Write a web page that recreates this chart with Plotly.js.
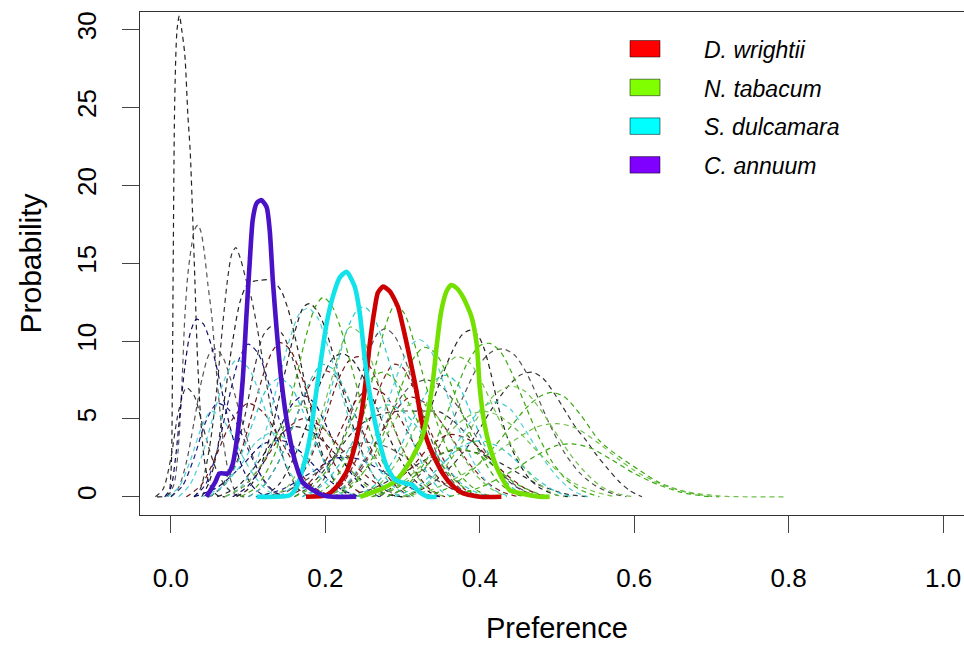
<!DOCTYPE html>
<html>
<head>
<meta charset="utf-8">
<script src="https://cdn.plot.ly/plotly-3.0.1.min.js"></script>
<style>
  html, body { margin: 0; padding: 0; background: #ffffff; overflow: hidden; }
  #chart { width: 976px; height: 647px; }
</style>
</head>
<body>
<div id="chart"></div>
<script>
// Host names, in legend order
const hostNames = ["D. wrightii", "N. tabacum", "S. dulcamara", "C. annuum"];
const hostFill = ["#FF0000", "#80FF00", "#00FFFF", "#8000FF"];
const hostLine = ["#CC0000", "#74E000", "#10E4EA", "#4A12C6"];

// Posterior densities of host preference, one per host species
const wrightiiX = [0.175, 0.2015, 0.2145, 0.2275, 0.238, 0.247, 0.253, 0.2575, 0.264, 0.268, 0.2748, 0.2834, 0.294, 0.3006, 0.309, 0.318, 0.3245, 0.335, 0.352, 0.365, 0.378, 0.40, 0.428];
const wrightiiY = [0, 0.1, 0.64, 1.6, 3.2, 5.4, 7.7, 9.8, 12.1, 13.1, 13.5, 13.2, 12.2, 10.9, 9.0, 6.8, 4.9, 3.2, 1.5, 0.7, 0.24, 0, 0];

const tabacumX = [0.245, 0.275, 0.292, 0.309, 0.3245, 0.333, 0.3395, 0.344, 0.35, 0.357, 0.363, 0.37, 0.378, 0.389, 0.396, 0.40, 0.406, 0.413, 0.4236, 0.4387, 0.4517, 0.4776, 0.4905];
const tabacumY = [0, 0.56, 1.07, 2.2, 3.7, 5.4, 7.5, 9.6, 11.9, 13.2, 13.6, 13.4, 12.85, 11.6, 9.8, 7.0, 4.7, 3.2, 1.7, 0.43, 0.24, 0, 0];

const dulcamaraX = [0.111, 0.154, 0.163, 0.173, 0.18, 0.189, 0.195, 0.2015, 0.21, 0.219, 0.2275, 0.238, 0.2446, 0.251, 0.2575, 0.266, 0.279, 0.29, 0.303, 0.313, 0.322, 0.333, 0.344];
const dulcamaraY = [0, 0.1, 0.64, 2.2, 3.8, 7.0, 9.0, 11.1, 12.9, 14.1, 14.45, 13.5, 11.8, 8.9, 6.6, 4.4, 2.0, 1.1, 0.87, 0.75, 0.3, 0, 0];

const annuumX = [0.046, 0.057, 0.063, 0.074, 0.080, 0.087, 0.093, 0.098, 0.102, 0.106, 0.111, 0.117, 0.124, 0.128, 0.132, 0.137, 0.143, 0.152, 0.163, 0.171, 0.184, 0.197, 0.21, 0.24];
const annuumY = [0, 0.9, 1.5, 1.5, 2.1, 4.3, 7.5, 11.8, 15.0, 17.8, 18.85, 19.05, 18.6, 17.1, 13.9, 10.7, 7.5, 4.3, 1.9, 0.9, 0.43, 0.1, 0, 0];

// Individual-level densities, [preference, probability] pairs
const darkSamples = [
  [[-0.018,0],[-0.004,0.1],[0.0,1.5],[0.002,8],[0.003,15],[0.005,25.5],[0.008,30],[0.011,30.9],[0.014,30],[0.018,28.4],[0.022,24.5],[0.025,22.2],[0.028,18.3],[0.031,14],[0.034,9.5],[0.038,5.5],[0.043,2.5],[0.05,0.8],[0.06,0.1],[0.07,0]],
  [[-0.004,0],[0.004,0.8],[0.008,2.2],[0.012,5],[0.015,8],[0.018,11.5],[0.022,14.3],[0.027,16.2],[0.031,17.2],[0.035,17.45],[0.039,17],[0.043,15.8],[0.048,13.6],[0.053,11.6],[0.057,9.2],[0.062,6.3],[0.068,3.5],[0.075,1.5],[0.083,0.4],[0.092,0]],
  [[0.03,0],[0.038,0.5],[0.045,1.8],[0.052,3.8],[0.06,7.2],[0.067,11],[0.074,14.2],[0.079,15.6],[0.084,16.0],[0.09,15.3],[0.097,14],[0.104,12.8],[0.112,10.8],[0.12,8.4],[0.13,5.6],[0.14,3.4],[0.152,1.6],[0.165,0.5],[0.18,0]],
  [[0.04,0],[0.05,1],[0.06,3],[0.07,6.5],[0.08,10],[0.09,12.6],[0.1,13.7],[0.115,13.9],[0.13,13.9],[0.142,13.3],[0.152,12],[0.162,10],[0.175,7],[0.188,4.2],[0.2,2.2],[0.215,0.8],[0.23,0.1],[0.24,0]],
  [[0.0,0],[0.01,0.6],[0.02,2.2],[0.03,4.8],[0.04,7.5],[0.05,9.2],[0.058,9.5],[0.067,9],[0.077,7.6],[0.088,5.6],[0.1,3.5],[0.112,1.8],[0.125,0.7],[0.14,0.1],[0.15,0]],
  [[0.05,0],[0.065,0.6],[0.08,2.2],[0.095,5],[0.108,8.2],[0.12,10.4],[0.132,11.0],[0.145,10.4],[0.158,8.8],[0.17,6.6],[0.183,4.4],[0.197,2.4],[0.212,1],[0.228,0.2],[0.24,0]],
  [[0.085,0],[0.1,0.5],[0.115,1.8],[0.13,4.2],[0.145,7.4],[0.16,10.5],[0.172,12.2],[0.18,12.4],[0.19,11.9],[0.2,10.8],[0.212,8.8],[0.225,6.4],[0.24,3.9],[0.255,2],[0.27,0.8],[0.288,0.1],[0.3,0]],
  [[0.17,0],[0.19,0.6],[0.21,2.2],[0.23,4.8],[0.245,7.4],[0.258,9.5],[0.268,10.5],[0.278,10.8],[0.29,10.3],[0.302,9],[0.315,7],[0.33,4.7],[0.345,2.7],[0.36,1.3],[0.378,0.4],[0.395,0]],
  [[0.16,0],[0.18,0.7],[0.2,1.8],[0.22,3.2],[0.24,4.4],[0.26,5.1],[0.28,5.4],[0.296,5.5],[0.32,5.5],[0.348,5.45],[0.365,4.9],[0.385,3.9],[0.405,2.7],[0.425,1.6],[0.445,0.7],[0.465,0.2],[0.485,0]],
  [[0.27,0],[0.29,0.8],[0.31,2.4],[0.33,4.8],[0.35,7.6],[0.365,9.4],[0.377,10.4],[0.388,10.7],[0.397,10.4],[0.405,9.6],[0.414,8],[0.424,5.8],[0.435,3.9],[0.447,2.5],[0.462,1.3],[0.477,0.6],[0.5,0.1],[0.52,0]],
  [[0.28,0],[0.31,0.8],[0.335,2.2],[0.36,4.4],[0.38,6.6],[0.398,8.4],[0.415,9.3],[0.43,9.5],[0.445,9.1],[0.46,8],[0.475,6.4],[0.49,4.7],[0.51,2.8],[0.53,1.5],[0.55,0.7],[0.572,0.2],[0.59,0]],
  [[0.3,0],[0.33,0.6],[0.36,1.8],[0.39,3.6],[0.415,5.6],[0.435,7],[0.452,7.8],[0.468,8.0],[0.482,7.6],[0.497,6.6],[0.512,5.4],[0.525,4.4],[0.538,3.6],[0.551,2.7],[0.564,1.9],[0.58,1.0],[0.594,0.4],[0.61,0]],
  [[0.12,0],[0.14,0.8],[0.16,2.6],[0.18,5.2],[0.195,7.5],[0.21,8.9],[0.222,9.2],[0.235,8.8],[0.25,7.6],[0.265,5.9],[0.28,4.1],[0.297,2.4],[0.315,1.1],[0.335,0.3],[0.35,0]],
  [[0.2,0],[0.225,0.6],[0.25,2],[0.27,3.9],[0.29,5.8],[0.31,7.1],[0.33,7.5],[0.35,7.1],[0.37,5.9],[0.39,4.3],[0.41,2.7],[0.43,1.4],[0.45,0.6],[0.47,0.1],[0.485,0]],
  [[-0.02,0],[-0.01,0.5],[0.0,2.5],[0.01,5.5],[0.02,7],[0.03,6.5],[0.04,4.8],[0.05,3],[0.06,1.6],[0.072,0.6],[0.085,0.1],[0.095,0]],
  [[0.06,0],[0.085,0.6],[0.11,2],[0.135,3.7],[0.16,4.5],[0.185,4.1],[0.21,2.9],[0.235,1.6],[0.26,0.6],[0.285,0.1],[0.3,0]],
  [[0.12,0],[0.155,0.5],[0.19,1.6],[0.22,2.8],[0.25,3.5],[0.28,3.2],[0.31,2.3],[0.34,1.2],[0.37,0.4],[0.4,0]],
  [[0.22,0],[0.26,0.5],[0.3,1.5],[0.335,2.5],[0.37,3],[0.405,2.7],[0.44,1.8],[0.475,0.8],[0.51,0.2],[0.54,0]]
];

const navySamples = [
  [[-0.008,0],[0.0,0.6],[0.006,2.5],[0.012,5.5],[0.018,8.3],[0.025,10.5],[0.033,11.4],[0.042,11.1],[0.05,10.1],[0.058,8.6],[0.066,6.8],[0.075,4.8],[0.085,3],[0.095,1.6],[0.107,0.6],[0.12,0.1],[0.13,0]],
  [[0.03,0],[0.045,0.8],[0.06,3],[0.075,6.3],[0.088,8.8],[0.1,9.8],[0.113,9.2],[0.126,7.4],[0.14,5],[0.155,2.8],[0.17,1.2],[0.185,0.3],[0.2,0]],
  [[0.08,0],[0.1,0.7],[0.12,2.2],[0.14,4.3],[0.158,6],[0.172,6.5],[0.186,6],[0.2,4.7],[0.215,3.1],[0.232,1.6],[0.25,0.6],[0.27,0]],
  [[0.0,0],[0.015,0.7],[0.03,2.5],[0.045,4.8],[0.06,6],[0.075,5.6],[0.09,4.2],[0.105,2.5],[0.12,1.1],[0.135,0.3],[0.15,0]],
  [[0.03,0],[0.06,0.6],[0.09,1.9],[0.12,3.4],[0.145,3.6],[0.17,2.8],[0.195,1.5],[0.22,0.5],[0.245,0]],
  [[0.11,0],[0.145,0.5],[0.18,1.5],[0.215,2.5],[0.245,2.4],[0.275,1.6],[0.305,0.7],[0.335,0.1],[0.35,0]]
];

const cyanSamples = [
  [[0.14,0],[0.16,0.8],[0.18,2.6],[0.2,5.5],[0.215,8.4],[0.228,10.7],[0.24,11.9],[0.25,12.2],[0.262,11.6],[0.275,9.9],[0.29,7.4],[0.305,4.8],[0.32,2.7],[0.336,1.2],[0.352,0.3],[0.365,0]],
  [[0.2,0],[0.225,0.7],[0.25,2.4],[0.27,4.6],[0.285,6.7],[0.3,8.7],[0.312,9.8],[0.322,10.1],[0.334,9.6],[0.347,8.2],[0.36,6.2],[0.375,4.1],[0.39,2.4],[0.405,1.2],[0.42,0.4],[0.44,0]],
  [[0.24,0],[0.265,0.8],[0.29,2.5],[0.31,4.6],[0.33,6.6],[0.345,7.6],[0.358,7.8],[0.372,7.2],[0.385,5.8],[0.4,4],[0.415,2.4],[0.43,1.2],[0.447,0.4],[0.465,0]],
  [[0.01,0],[0.025,0.8],[0.04,2.6],[0.055,5.2],[0.07,7.6],[0.085,8.8],[0.1,8.3],[0.115,6.6],[0.13,4.4],[0.145,2.5],[0.16,1.1],[0.178,0.3],[0.19,0]],
  [[0.05,0],[0.07,0.8],[0.09,2.6],[0.108,5],[0.125,7],[0.14,7.6],[0.155,7.1],[0.17,5.6],[0.186,3.7],[0.2,2.1],[0.215,0.9],[0.232,0.2],[0.245,0]],
  [[0.07,0],[0.09,0.6],[0.11,2.2],[0.125,4.6],[0.14,7.6],[0.155,10.3],[0.167,11.8],[0.178,12.1],[0.19,11.5],[0.203,9.7],[0.217,7.3],[0.232,4.8],[0.248,2.7],[0.265,1.2],[0.282,0.4],[0.3,0]],
  [[0.1,0],[0.12,0.7],[0.14,2.3],[0.16,4.8],[0.178,7.2],[0.195,8.5],[0.21,8.2],[0.225,6.9],[0.24,5],[0.256,3.1],[0.272,1.6],[0.29,0.6],[0.31,0]],
  [[-0.005,0],[0.01,0.6],[0.025,2.3],[0.04,4.5],[0.052,5.5],[0.065,5.1],[0.08,3.9],[0.095,2.4],[0.11,1.2],[0.125,0.4],[0.14,0]],
  [[0.17,0],[0.195,0.7],[0.22,2.2],[0.24,3.9],[0.26,5.3],[0.28,5.9],[0.3,5.5],[0.32,4.4],[0.34,3],[0.36,1.7],[0.38,0.7],[0.4,0.2],[0.42,0]],
  [[0.04,0],[0.065,0.6],[0.09,2],[0.11,3.5],[0.13,4.1],[0.15,3.7],[0.17,2.6],[0.19,1.4],[0.21,0.5],[0.23,0]],
  [[0.29,0],[0.32,0.7],[0.35,2],[0.375,3.2],[0.4,3.6],[0.425,3.2],[0.45,2.2],[0.475,1.1],[0.5,0.3],[0.52,0]],
  [[0.3,0],[0.33,0.8],[0.36,2.6],[0.385,4.6],[0.405,5.8],[0.422,6.1],[0.44,5.6],[0.46,4.2],[0.48,2.6],[0.5,1.3],[0.52,0.4],[0.54,0]]
];

const maroonSamples = [
  [[0.05,0],[0.07,0.8],[0.09,2.8],[0.105,5.3],[0.12,7.9],[0.132,9.4],[0.142,9.9],[0.155,9.4],[0.168,7.9],[0.182,5.8],[0.197,3.7],[0.213,2],[0.23,0.8],[0.248,0.2],[0.26,0]],
  [[0.1,0],[0.12,0.7],[0.14,2.3],[0.16,4.8],[0.178,7],[0.195,8.1],[0.21,7.9],[0.225,6.8],[0.24,5.1],[0.257,3.3],[0.275,1.7],[0.293,0.6],[0.31,0]],
  [[0.15,0],[0.175,0.7],[0.2,2.3],[0.22,4.3],[0.24,6.2],[0.258,7],[0.276,6.6],[0.295,5.2],[0.315,3.4],[0.335,1.9],[0.355,0.8],[0.375,0.2],[0.39,0]],
  [[0.2,0],[0.225,0.7],[0.25,2.2],[0.27,3.9],[0.29,5.5],[0.31,6.4],[0.33,6],[0.35,4.8],[0.37,3.3],[0.39,1.9],[0.41,0.9],[0.43,0.3],[0.45,0]],
  [[0.02,0],[0.04,0.8],[0.06,2.8],[0.08,5],[0.1,6],[0.12,5.4],[0.14,3.8],[0.16,2.1],[0.18,0.8],[0.2,0.2],[0.215,0]],
  [[0.07,0],[0.095,0.7],[0.12,2.2],[0.145,4.1],[0.17,5],[0.195,4.5],[0.22,3.1],[0.245,1.7],[0.27,0.7],[0.295,0.1],[0.31,0]],
  [[0.14,0],[0.16,0.7],[0.18,2.4],[0.2,5],[0.215,7.3],[0.23,8.7],[0.243,9],[0.256,8.5],[0.27,7],[0.285,5],[0.3,3.1],[0.317,1.6],[0.335,0.5],[0.355,0]],
  [[0.2,0],[0.22,0.7],[0.24,2.4],[0.258,5],[0.273,7.3],[0.288,8.5],[0.3,8.3],[0.313,7.1],[0.328,5.2],[0.345,3.2],[0.362,1.6],[0.38,0.5],[0.4,0]],
  [[0.25,0],[0.28,0.6],[0.31,1.8],[0.335,3.2],[0.36,4],[0.385,3.7],[0.41,2.6],[0.435,1.4],[0.46,0.5],[0.485,0]]
];

const greenSamples = [
  [[0.09,0],[0.11,0.6],[0.13,2.2],[0.148,4.8],[0.163,7.8],[0.176,10.5],[0.187,12.2],[0.197,12.8],[0.208,12.3],[0.22,10.8],[0.233,8.5],[0.248,5.8],[0.263,3.5],[0.28,1.7],[0.298,0.6],[0.315,0]],
  [[0.13,0],[0.15,0.6],[0.17,2.1],[0.19,4.5],[0.205,7],[0.22,9.6],[0.232,10.9],[0.245,10.5],[0.258,9],[0.272,6.8],[0.288,4.5],[0.305,2.5],[0.322,1.1],[0.34,0.3],[0.355,0]],
  [[0.21,0],[0.235,0.7],[0.26,2.4],[0.28,4.6],[0.297,6.9],[0.313,8.8],[0.328,9.6],[0.343,9.2],[0.358,7.8],[0.373,5.9],[0.39,3.8],[0.408,2.1],[0.425,0.9],[0.445,0.2],[0.46,0]],
  [[0.24,0],[0.27,0.8],[0.295,2.4],[0.315,4.3],[0.335,6.4],[0.353,8.2],[0.37,9],[0.387,8.6],[0.403,7.3],[0.42,5.5],[0.438,3.6],[0.456,2],[0.475,0.9],[0.495,0.2],[0.51,0]],
  [[0.28,0],[0.305,0.7],[0.33,2.3],[0.35,4.4],[0.368,6.7],[0.385,8.7],[0.4,9.7],[0.413,9.85],[0.427,9.3],[0.442,7.9],[0.458,6],[0.475,4],[0.493,2.3],[0.512,1.1],[0.532,0.4],[0.555,0]],
  [[0.3,0],[0.33,0.7],[0.355,1.9],[0.38,3.7],[0.4,5.3],[0.42,6.6],[0.439,7.1],[0.458,6.8],[0.477,5.7],[0.496,4.3],[0.516,2.8],[0.536,1.6],[0.556,0.7],[0.578,0.2],[0.6,0]],
  [[0.33,0],[0.36,0.6],[0.39,1.7],[0.415,3],[0.44,4.5],[0.462,5.8],[0.48,6.5],[0.494,6.7],[0.51,6.4],[0.53,5.3],[0.555,3.6],[0.58,2.6],[0.607,1.7],[0.633,0.9],[0.667,0.3],[0.697,0.05],[0.71,0]],
  [[0.3,0],[0.34,0.5],[0.38,1.5],[0.42,2.8],[0.45,3.8],[0.475,4.5],[0.5,4.7],[0.525,4.4],[0.555,3.4],[0.58,2.4],[0.6,1.7],[0.62,1.15],[0.64,0.7],[0.67,0.3],[0.7,0.1],[0.72,0.02],[0.797,0]],
  [[0.16,0],[0.185,0.7],[0.21,2.3],[0.23,4.4],[0.248,6.5],[0.262,7.7],[0.275,8],[0.29,7.5],[0.307,6.1],[0.325,4.3],[0.345,2.5],[0.365,1.2],[0.385,0.4],[0.405,0]],
  [[0.26,0],[0.29,0.6],[0.32,1.8],[0.345,3.2],[0.37,4.6],[0.39,5.3],[0.405,5.5],[0.425,5.2],[0.45,4.2],[0.475,2.9],[0.5,1.7],[0.525,0.8],[0.55,0.3],[0.575,0]],
  [[0.36,0],[0.4,0.6],[0.44,1.6],[0.475,2.7],[0.5,3.3],[0.52,3.4],[0.545,3.1],[0.57,2.4],[0.6,1.5],[0.63,0.8],[0.66,0.3],[0.69,0.05],[0.7,0]],
  [[0.07,0],[0.095,0.7],[0.12,2.3],[0.14,4.3],[0.16,5.8],[0.18,5.6],[0.2,4.3],[0.22,2.7],[0.24,1.3],[0.26,0.4],[0.28,0]],
  [[0.18,0],[0.205,0.7],[0.23,2.6],[0.25,5.4],[0.265,8.4],[0.278,11],[0.29,12.3],[0.302,11.8],[0.315,9.9],[0.33,7.2],[0.345,4.7],[0.362,2.6],[0.38,1.1],[0.4,0.3],[0.42,0]],
  [[0.2,0],[0.23,0.7],[0.26,2.2],[0.28,4],[0.3,5.6],[0.318,6.1],[0.336,5.7],[0.355,4.4],[0.375,2.8],[0.395,1.4],[0.415,0.5],[0.435,0]],
  [[0.26,0],[0.29,0.5],[0.32,1.5],[0.345,2.6],[0.37,3.1],[0.395,2.8],[0.42,1.9],[0.445,0.9],[0.47,0.3],[0.49,0]]
];

// Axis ticks
const xTicks = [0, 0.2, 0.4, 0.6, 0.8, 1.0];
const xTickText = ["0.0", "0.2", "0.4", "0.6", "0.8", "1.0"];
const yTicks = [0, 5, 10, 15, 20, 25, 30];

const FONT = "Liberation Sans, Arial, Helvetica, sans-serif";
const DASH = "5px,4px";

function sampleTraces(group, colors) {
  return group.map((pts, i) => ({
    type: "scatter",
    mode: "lines",
    x: pts.map(p => p[0]),
    y: pts.map(p => p[1]),
    line: { color: colors[i % colors.length], width: 1.2, dash: DASH, shape: "spline", smoothing: 0.8 },
    hoverinfo: "skip",
    showlegend: false
  }));
}

const traces = [].concat(
  sampleTraces(darkSamples, ["#222222", "#555555", "#333333"]),
  sampleTraces(navySamples, ["#0b0b66", "#1a1a80"]),
  sampleTraces(maroonSamples, ["#6e1212", "#7d1f1f"]),
  sampleTraces(cyanSamples, ["#2cc6c6", "#4fcfd0"]),
  sampleTraces(greenSamples, ["#3aa80e", "#6fc04a"])
);

const hostSeries = [
  [wrightiiX, wrightiiY],
  [tabacumX, tabacumY],
  [dulcamaraX, dulcamaraY],
  [annuumX, annuumY]
];
hostSeries.forEach((s, i) => {
  traces.push({
    type: "scatter",
    mode: "lines",
    name: hostNames[i],
    x: s[0],
    y: s[1],
    line: { color: hostLine[i], width: 4.6, shape: "spline", smoothing: 0.6 },
    showlegend: false
  });
});

// Legend: filled swatches with italic labels, placed in pixels from the plot's top-left corner
const shapes = [];
const annotations = [];
hostNames.forEach((name, i) => {
  const top = 40.5 + i * 38.7;
  shapes.push({
    type: "rect", xref: "paper", yref: "paper", xsizemode: "pixel", ysizemode: "pixel",
    xanchor: 0, yanchor: 1,
    x0: 490, x1: 520, y0: -(top - 12), y1: -(top - 12 + 16.5),
    fillcolor: hostFill[i], line: { color: "rgba(0,0,0,0.5)", width: 1 }
  });
  annotations.push({
    xref: "paper", yref: "paper", x: 0, y: 1, xanchor: "left", yanchor: "middle",
    xshift: 562, yshift: -(top - 12 + 9.5),
    text: "<i>" + name + "</i>", showarrow: false,
    font: { family: FONT, size: 23, color: "#000" }
  });
});

// Axis titles
annotations.push({
  xref: "paper", yref: "paper", x: 0, y: 0.5, xanchor: "center", yanchor: "middle",
  xshift: -110, textangle: -90, text: "Probability", showarrow: false,
  font: { family: FONT, size: 30, color: "#000" }
});
annotations.push({
  xref: "paper", yref: "paper", x: 0.5, y: 0, xanchor: "center", yanchor: "middle",
  yshift: -113, text: "Preference", showarrow: false,
  font: { family: FONT, size: 29, color: "#000" }
});

const layout = {
  width: 976,
  height: 647,
  margin: { l: 140, r: 2, t: 12, b: 132 },
  paper_bgcolor: "#ffffff",
  plot_bgcolor: "#ffffff",
  font: { family: FONT, color: "#000" },
  showlegend: false,
  xaxis: {
    range: [-0.04, 1.04],
    tickvals: xTicks,
    ticktext: xTickText,
    ticks: "outside",
    ticklen: 17,
    tickwidth: 1,
    tickcolor: "#444",
    showline: true,
    linecolor: "#333",
    linewidth: 1,
    mirror: true,
    showgrid: false,
    zeroline: false,
    tickfont: { family: FONT, size: 26, color: "#000" },
    ticklabelstandoff: 23
  },
  yaxis: {
    range: [-1.17, 31.13],
    tickvals: yTicks,
    ticks: "outside",
    ticklen: 17,
    tickwidth: 1,
    tickcolor: "#444",
    showline: true,
    linecolor: "#333",
    linewidth: 1,
    mirror: true,
    showgrid: false,
    zeroline: false,
    tickangle: -90,
    tickfont: { family: FONT, size: 26, color: "#000" },
    ticklabelstandoff: 16
  },
  shapes: shapes,
  annotations: annotations
};

Plotly.newPlot("chart", traces, layout, { displayModeBar: false, staticPlot: true });
</script>
</body>
</html>
